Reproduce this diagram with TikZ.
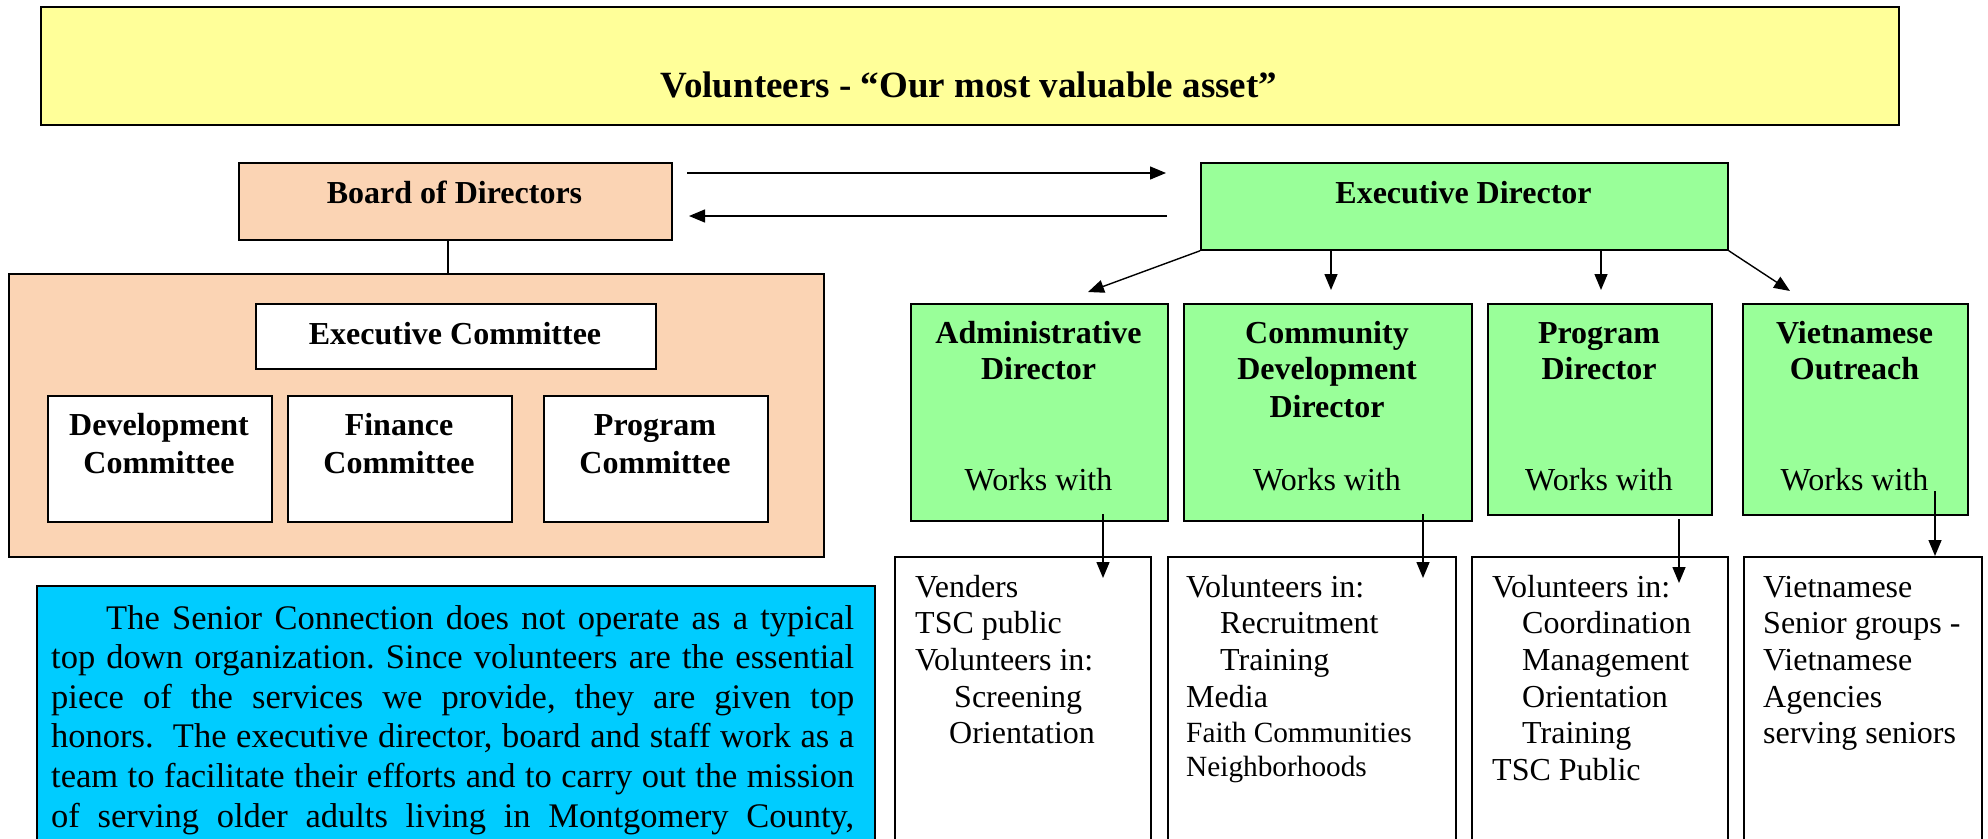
\documentclass[tikz,border=0pt]{standalone}
\usepackage{fontspec}
\setmainfont{Liberation Serif}
\usetikzlibrary{arrows.meta}
\definecolor{ylw}{HTML}{FFFF99}
\definecolor{peach}{HTML}{FBD4B4}
\definecolor{grn}{HTML}{99FF99}
\definecolor{sky}{HTML}{00CCFF}
\frenchspacing
\begin{document}
\begin{tikzpicture}[x=1pt,y=-1pt,
  box/.style={draw=black, line width=1.8pt, inner sep=0pt, anchor=north west},
  conn/.style={line width=1.4pt},
  arr/.style={conn, -{Triangle[length=16pt,width=13pt]}},
  bt/.style={font=\fontsize{32}{37}\selectfont\bfseries, inner sep=0pt, anchor=base},
  rt/.style={font=\fontsize{32}{37}\selectfont, inner sep=0pt, anchor=base},
  lt/.style={font=\fontsize{32}{37}\selectfont, inner sep=0pt, anchor=base west},
  st/.style={font=\fontsize{29.3}{34}\selectfont, inner sep=0pt, anchor=base west},
  pt/.style={font=\fontsize{34.5}{39.6}\selectfont, inner sep=0pt, anchor=base west},
]
\useasboundingbox (0,0) rectangle (1988,838);
\clip (0,0) rectangle (1988,838);

% boxes
\node[box, fill=ylw, minimum width=1858pt, minimum height=118pt] (title) at (40,6) {};
\node[box, fill=peach, minimum width=433pt, minimum height=77pt] (board) at (238,162) {};
\node[box, fill=grn, minimum width=527pt, minimum height=87pt] (ed) at (1200,162) {};
\node[box, fill=peach, minimum width=815pt, minimum height=283pt] (grp) at (8,273) {};
\node[box, fill=white, minimum width=400pt, minimum height=65pt] (execc) at (255,303) {};
\node[box, fill=white, minimum width=224pt, minimum height=126pt] (devc) at (47,395) {};
\node[box, fill=white, minimum width=224pt, minimum height=126pt] (finc) at (287,395) {};
\node[box, fill=white, minimum width=224pt, minimum height=126pt] (progc) at (543,395) {};
\node[box, fill=grn, minimum width=257pt, minimum height=217pt] (adm) at (910,303) {};
\node[box, fill=grn, minimum width=288pt, minimum height=217pt] (cdd) at (1183,303) {};
\node[box, fill=grn, minimum width=224pt, minimum height=211pt] (pdir) at (1487,303) {};
\node[box, fill=grn, minimum width=225pt, minimum height=211pt] (viet) at (1742,303) {};
\node[box, fill=white, minimum width=256pt, minimum height=320pt] (wadm) at (894,556) {};
\node[box, fill=white, minimum width=288pt, minimum height=320pt] (wcdd) at (1167,556) {};
\node[box, fill=white, minimum width=256pt, minimum height=320pt] (wpdir) at (1471,556) {};
\node[box, fill=white, minimum width=238pt, minimum height=320pt] (wviet) at (1743,556) {};
\node[box, fill=sky, minimum width=838pt, minimum height=300pt] (blue) at (36,585) {};

% texts
\node[font=\fontsize{37}{44}\selectfont\bfseries, inner sep=0pt, anchor=base] (ttl) at (969,97) {Volunteers - “Our most valuable asset”};
\node[bt] (tboard) at (454.5,203) {Board of Directors};
\node[bt] (ted) at (1463.5,203) {Executive Director};
\node[bt] (texec) at (455,344) {Executive Committee};
\node[bt] (tdev1) at (159,435) {Development};
\node[bt] (tdev2) at (159,473) {Committee};
\node[bt] (tfin1) at (399,435) {Finance};
\node[bt] (tfin2) at (399,473) {Committee};
\node[bt] (tpc1) at (655,435) {Program};
\node[bt] (tpc2) at (655,473) {Committee};

\node[bt] (tadm1) at (1038.5,343) {Administrative};
\node[bt] (tadm2) at (1038.5,379) {Director};
\node[rt] (tadm3) at (1038.5,490) {Works with};
\node[bt] (tcdd1) at (1327,343) {Community};
\node[bt] (tcdd2) at (1327,379) {Development};
\node[bt] (tcdd3) at (1327,417) {Director};
\node[rt] (tcdd4) at (1327,490) {Works with};
\node[bt] (tpd1) at (1599,343) {Program};
\node[bt] (tpd2) at (1599,379) {Director};
\node[rt] (tpd3) at (1599,490) {Works with};
\node[bt] (tv1) at (1854.5,343) {Vietnamese};
\node[bt] (tv2) at (1854.5,379) {Outreach};
\node[rt] (tv3) at (1854.5,490) {Works with};

% lists
\node[lt] (la1) at (915,597) {Venders};
\node[lt] (la2) at (915,633) {TSC public};
\node[lt] (la3) at (915,670) {Volunteers in:};
\node[lt] (la4) at (954,707) {Screening};
\node[lt] (la5) at (949,743) {Orientation};

\node[lt] (lc1) at (1186,597) {Volunteers in:};
\node[lt] (lc2) at (1220,633) {Recruitment};
\node[lt] (lc3) at (1220,670) {Training};
\node[lt] (lc4) at (1186,707) {Media};
\node[st] (lc5) at (1186,742) {Faith Communities};
\node[st] (lc6) at (1186,776) {Neighborhoods};

\node[lt] (lp1) at (1492,597) {Volunteers in:};
\node[lt] (lp2) at (1522,633) {Coordination};
\node[lt] (lp3) at (1522,670) {Management};
\node[lt] (lp4) at (1522,707) {Orientation};
\node[lt] (lp5) at (1522,743) {Training};
\node[lt] (lp6) at (1492,780) {TSC Public};

\node[lt] (lv1) at (1763,597) {Vietnamese};
\node[lt] (lv2) at (1763,633) {Senior groups -};
\node[lt] (lv3) at (1763,670) {Vietnamese};
\node[lt] (lv4) at (1763,707) {Agencies};
\node[lt] (lv5) at (1763,743) {serving seniors};

% paragraph
\node[pt] (p1) at (51,629) {\makebox[803pt][s]{\hspace{55pt}The Senior Connection does not operate as a typical}};
\node[pt] (p2) at (51,668.6) {\makebox[803pt][s]{top down organization. Since volunteers are the essential}};
\node[pt] (p3) at (51,708.2) {\makebox[803pt][s]{piece of the services we provide, they are given top}};
\node[pt] (p4) at (51,747.8) {\makebox[803pt][s]{honors.\ \ The executive director, board and staff work as a}};
\node[pt] (p5) at (51,787.4) {\makebox[803pt][s]{team to facilitate their efforts and to carry out the mission}};
\node[pt] (p6) at (51,827) {\makebox[803pt][s]{of serving older adults living in Montgomery County,}};

% connectors
\coordinate (ba) at (448,239);
\draw[conn] (ba) -- (ba |- grp.north);
\coordinate (r1) at (687,173);
\coordinate (r2) at (1166,173);
\draw[arr] (r1) -- (r2);
\coordinate (l1) at (1167,216);
\coordinate (l2) at (689,216);
\draw[arr] (l1) -- (l2);

\coordinate (tipa) at (1088,292);
\coordinate (tipc) at (1331,290);
\coordinate (tipp) at (1601,290);
\coordinate (tipv) at (1790,291);
\draw[arr] (ed.south west) -- (tipa);
\draw[arr] (tipc |- ed.south) -- (tipc);
\draw[arr] (tipp |- ed.south) -- (tipp);
\draw[arr] (ed.south east) -- (tipv);

\coordinate (wa1) at (1103,514);
\coordinate (wa2) at (1103,578);
\draw[arr] (wa1) -- (wa2);
\coordinate (wc1) at (1423,514);
\coordinate (wc2) at (1423,578);
\draw[arr] (wc1) -- (wc2);
\coordinate (wp1) at (1679,519);
\coordinate (wp2) at (1679,583);
\draw[arr] (wp1) -- (wp2);
\coordinate (wv1) at (1935,491);
\draw[arr] (wv1) -- (wv1 |- wviet.north);
\end{tikzpicture}
\end{document}
